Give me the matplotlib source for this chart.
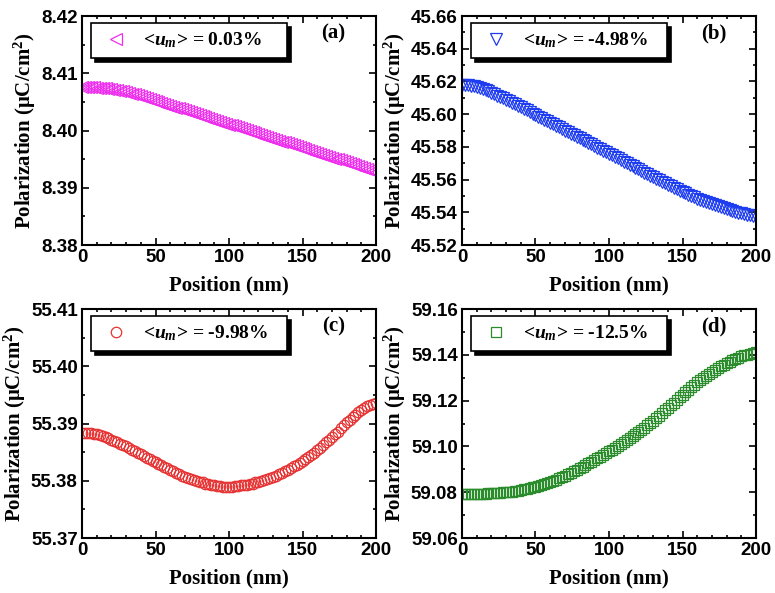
import numpy as np
import matplotlib
matplotlib.use("Agg")
import matplotlib.pyplot as plt
from matplotlib.ticker import MultipleLocator, FormatStrFormatter

plt.rcParams["font.family"] = ["Liberation Serif", "DejaVu Serif"]
plt.rcParams["mathtext.fontset"] = "custom"
plt.rcParams["mathtext.rm"] = "Liberation Serif:bold"
plt.rcParams["mathtext.it"] = "Liberation Serif:italic:bold"
plt.rcParams["mathtext.bf"] = "Liberation Serif:bold"

# Позиции (нм), шаг 2 нм
position = list(range(0, 201, 2))

# (a) <u_m> = 0.03%
pol_a = [
    8.40760, 8.40760, 8.40758, 8.40756, 8.40754, 8.40750, 8.40746, 8.40740, 8.40734, 8.40728,
    8.40720, 8.40712, 8.40702, 8.40692, 8.40682, 8.40670, 8.40658, 8.40644, 8.40630, 8.40616,
    8.40600, 8.40584, 8.40567, 8.40551, 8.40534, 8.40518, 8.40501, 8.40485, 8.40468, 8.40452,
    8.40435, 8.40419, 8.40402, 8.40386, 8.40369, 8.40353, 8.40336, 8.40320, 8.40303, 8.40287,
    8.40270, 8.40254, 8.40237, 8.40221, 8.40204, 8.40188, 8.40171, 8.40155, 8.40138, 8.40122,
    8.40105, 8.40089, 8.40072, 8.40056, 8.40039, 8.40023, 8.40006, 8.39990, 8.39973, 8.39957,
    8.39940, 8.39924, 8.39907, 8.39891, 8.39874, 8.39858, 8.39841, 8.39825, 8.39808, 8.39792,
    8.39775, 8.39759, 8.39742, 8.39726, 8.39709, 8.39693, 8.39676, 8.39660, 8.39643, 8.39627,
    8.39610, 8.39594, 8.39577, 8.39561, 8.39544, 8.39528, 8.39511, 8.39495, 8.39478, 8.39462,
    8.39445, 8.39429, 8.39412, 8.39396, 8.39379, 8.39363, 8.39346, 8.39330, 8.39313, 8.39297,
    8.39280,
]

# (b) <u_m> = -4.98%
pol_b = [
    45.6180, 45.6180, 45.6178, 45.6175, 45.6172, 45.6168, 45.6162, 45.6155, 45.6148, 45.6140,
    45.6132, 45.6123, 45.6114, 45.6106, 45.6097, 45.6088, 45.6079, 45.6070, 45.6060, 45.6051,
    45.6042, 45.6033, 45.6023, 45.6014, 45.6004, 45.5995, 45.5985, 45.5976, 45.5966, 45.5957,
    45.5947, 45.5938, 45.5928, 45.5919, 45.5909, 45.5900, 45.5891, 45.5881, 45.5872, 45.5862,
    45.5853, 45.5844, 45.5834, 45.5825, 45.5815, 45.5806, 45.5796, 45.5787, 45.5777, 45.5768,
    45.5758, 45.5748, 45.5739, 45.5729, 45.5720, 45.5710, 45.5700, 45.5691, 45.5681, 45.5672,
    45.5662, 45.5652, 45.5643, 45.5633, 45.5624, 45.5614, 45.5605, 45.5596, 45.5586, 45.5577,
    45.5568, 45.5559, 45.5550, 45.5541, 45.5533, 45.5524, 45.5516, 45.5508, 45.5500, 45.5492,
    45.5484, 45.5477, 45.5469, 45.5462, 45.5455, 45.5448, 45.5442, 45.5436, 45.5430, 45.5424,
    45.5418, 45.5413, 45.5408, 45.5403, 45.5398, 45.5394, 45.5390, 45.5386, 45.5382, 45.5379,
    45.5376,
]

# (c) <u_m> = -9.98%
pol_c = [
    55.3884, 55.3884, 55.3883, 55.3883, 55.3882, 55.3881, 55.3880, 55.3878, 55.3876, 55.3874,
    55.3872, 55.3870, 55.3867, 55.3865, 55.3862, 55.3860, 55.3857, 55.3854, 55.3852, 55.3849,
    55.3846, 55.3843, 55.3840, 55.3838, 55.3835, 55.3832, 55.3829, 55.3827, 55.3824, 55.3822,
    55.3819, 55.3817, 55.3814, 55.3812, 55.3809, 55.3807, 55.3805, 55.3803, 55.3801, 55.3800,
    55.3798, 55.3797, 55.3795, 55.3794, 55.3793, 55.3792, 55.3791, 55.3791, 55.3790, 55.3790,
    55.3790, 55.3790, 55.3791, 55.3791, 55.3792, 55.3792, 55.3793, 55.3794, 55.3795, 55.3797,
    55.3798, 55.3800, 55.3801, 55.3803, 55.3805, 55.3807, 55.3809, 55.3812, 55.3814, 55.3817,
    55.3819, 55.3822, 55.3825, 55.3828, 55.3831, 55.3834, 55.3838, 55.3841, 55.3845, 55.3849,
    55.3853, 55.3858, 55.3862, 55.3867, 55.3871, 55.3876, 55.3881, 55.3886, 55.3892, 55.3897,
    55.3902, 55.3906, 55.3911, 55.3915, 55.3920, 55.3924, 55.3927, 55.3930, 55.3932, 55.3934,
    55.3936,
]

# (d) <u_m> = -12.5%
pol_d = [
    59.0792, 59.0792, 59.0792, 59.0792, 59.0793, 59.0793, 59.0793, 59.0794, 59.0794, 59.0795,
    59.0795, 59.0796, 59.0797, 59.0798, 59.0799, 59.0800, 59.0802, 59.0803, 59.0805, 59.0807,
    59.0809, 59.0812, 59.0815, 59.0818, 59.0821, 59.0824, 59.0828, 59.0832, 59.0836, 59.0840,
    59.0844, 59.0849, 59.0855, 59.0860, 59.0866, 59.0872, 59.0878, 59.0885, 59.0891, 59.0898,
    59.0904, 59.0911, 59.0918, 59.0926, 59.0933, 59.0940, 59.0948, 59.0955, 59.0963, 59.0970,
    59.0978, 59.0986, 59.0994, 59.1002, 59.1010, 59.1018, 59.1027, 59.1036, 59.1044, 59.1053,
    59.1062, 59.1072, 59.1082, 59.1092, 59.1102, 59.1112, 59.1123, 59.1134, 59.1146, 59.1157,
    59.1168, 59.1180, 59.1191, 59.1203, 59.1214, 59.1226, 59.1237, 59.1248, 59.1258, 59.1269,
    59.1280, 59.1289, 59.1298, 59.1308, 59.1317, 59.1326, 59.1334, 59.1341, 59.1349, 59.1356,
    59.1364, 59.1370, 59.1376, 59.1382, 59.1388, 59.1394, 59.1398, 59.1401, 59.1405, 59.1408,
    59.1412,
]

labels = ["0.03%", "-4.98%", "-9.98%", "-12.5%"]
panel_tags = ["(a)", "(b)", "(c)", "(d)"]
markers = ["<", "v", "o", "s"]
msizes = [8.5, 8.5, 7.5, 7]
colors = ["#ee30ee", "#1e3cf0", "#e63232", "#2a8c2a"]
ylims = [(8.38, 8.42), (45.52, 45.66), (55.37, 55.41), (59.06, 59.16)]
ymajor = [0.01, 0.02, 0.01, 0.02]
series = [pol_a, pol_b, pol_c, pol_d]

fig = plt.figure(figsize=(7.75, 5.93), dpi=100)
# правые панели чуть левее, чтобы "200" не обрезалось краем
lefts = [0.1058, 0.5961, 0.1058, 0.5961]
bottoms = [0.5868, 0.5868, 0.0927, 0.0927]
w, h = 0.3794, 0.3862

for i in range(4):
    ax = fig.add_axes([lefts[i], bottoms[i], w, h])
    ax.plot(position, series[i], linestyle="none", marker=markers[i],
            markersize=msizes[i], markerfacecolor="none", markeredgecolor=colors[i],
            markeredgewidth=0.9, label=r"<$\mathit{u}_{\mathit{m}}$> = " + labels[i])

    ax.set_xlim(0, 200)
    ax.set_ylim(*ylims[i])
    ax.xaxis.set_major_locator(MultipleLocator(50))
    ax.xaxis.set_minor_locator(MultipleLocator(10))
    ax.yaxis.set_major_locator(MultipleLocator(ymajor[i]))
    ax.yaxis.set_minor_locator(MultipleLocator(ymajor[i] / 2))
    ax.yaxis.set_major_formatter(FormatStrFormatter("%.2f"))
    ax.xaxis.set_major_formatter(FormatStrFormatter("%d"))

    ax.tick_params(which="both", direction="in", top=True, right=True, width=1.2)
    ax.tick_params(which="major", length=5, pad=3)
    ax.tick_params(which="minor", length=2.5)
    for lab in ax.get_xticklabels() + ax.get_yticklabels():
        lab.set_family(["Liberation Sans", "DejaVu Sans"])
        lab.set_fontweight("bold")
        lab.set_fontsize(13.5)
    for sp in ax.spines.values():
        sp.set_linewidth(1.5)

    ax.set_xlabel("Position (nm)", fontsize=15, fontweight="bold", labelpad=7)
    ax.set_ylabel(r"Polarization (μC/cm$^2$)", fontsize=15, fontweight="bold", labelpad=2)

    ax.text(0.855, 0.925, panel_tags[i], transform=ax.transAxes, ha="center",
            va="center", fontsize=15, fontweight="bold")

    leg = ax.legend(loc="upper left", bbox_to_anchor=(0.031, 0.83, 0.666, 0.14),
                    mode="expand", fancybox=False, edgecolor="black", framealpha=1,
                    prop={"size": 14, "weight": "bold"}, handlelength=1.8,
                    handletextpad=0.45, borderpad=0.4, borderaxespad=0,
                    shadow={"ox": 3, "oy": -3, "color": "black", "alpha": 1})
    leg.get_frame().set_linewidth(1.2)

fig.savefig("out.png", dpi=100)
